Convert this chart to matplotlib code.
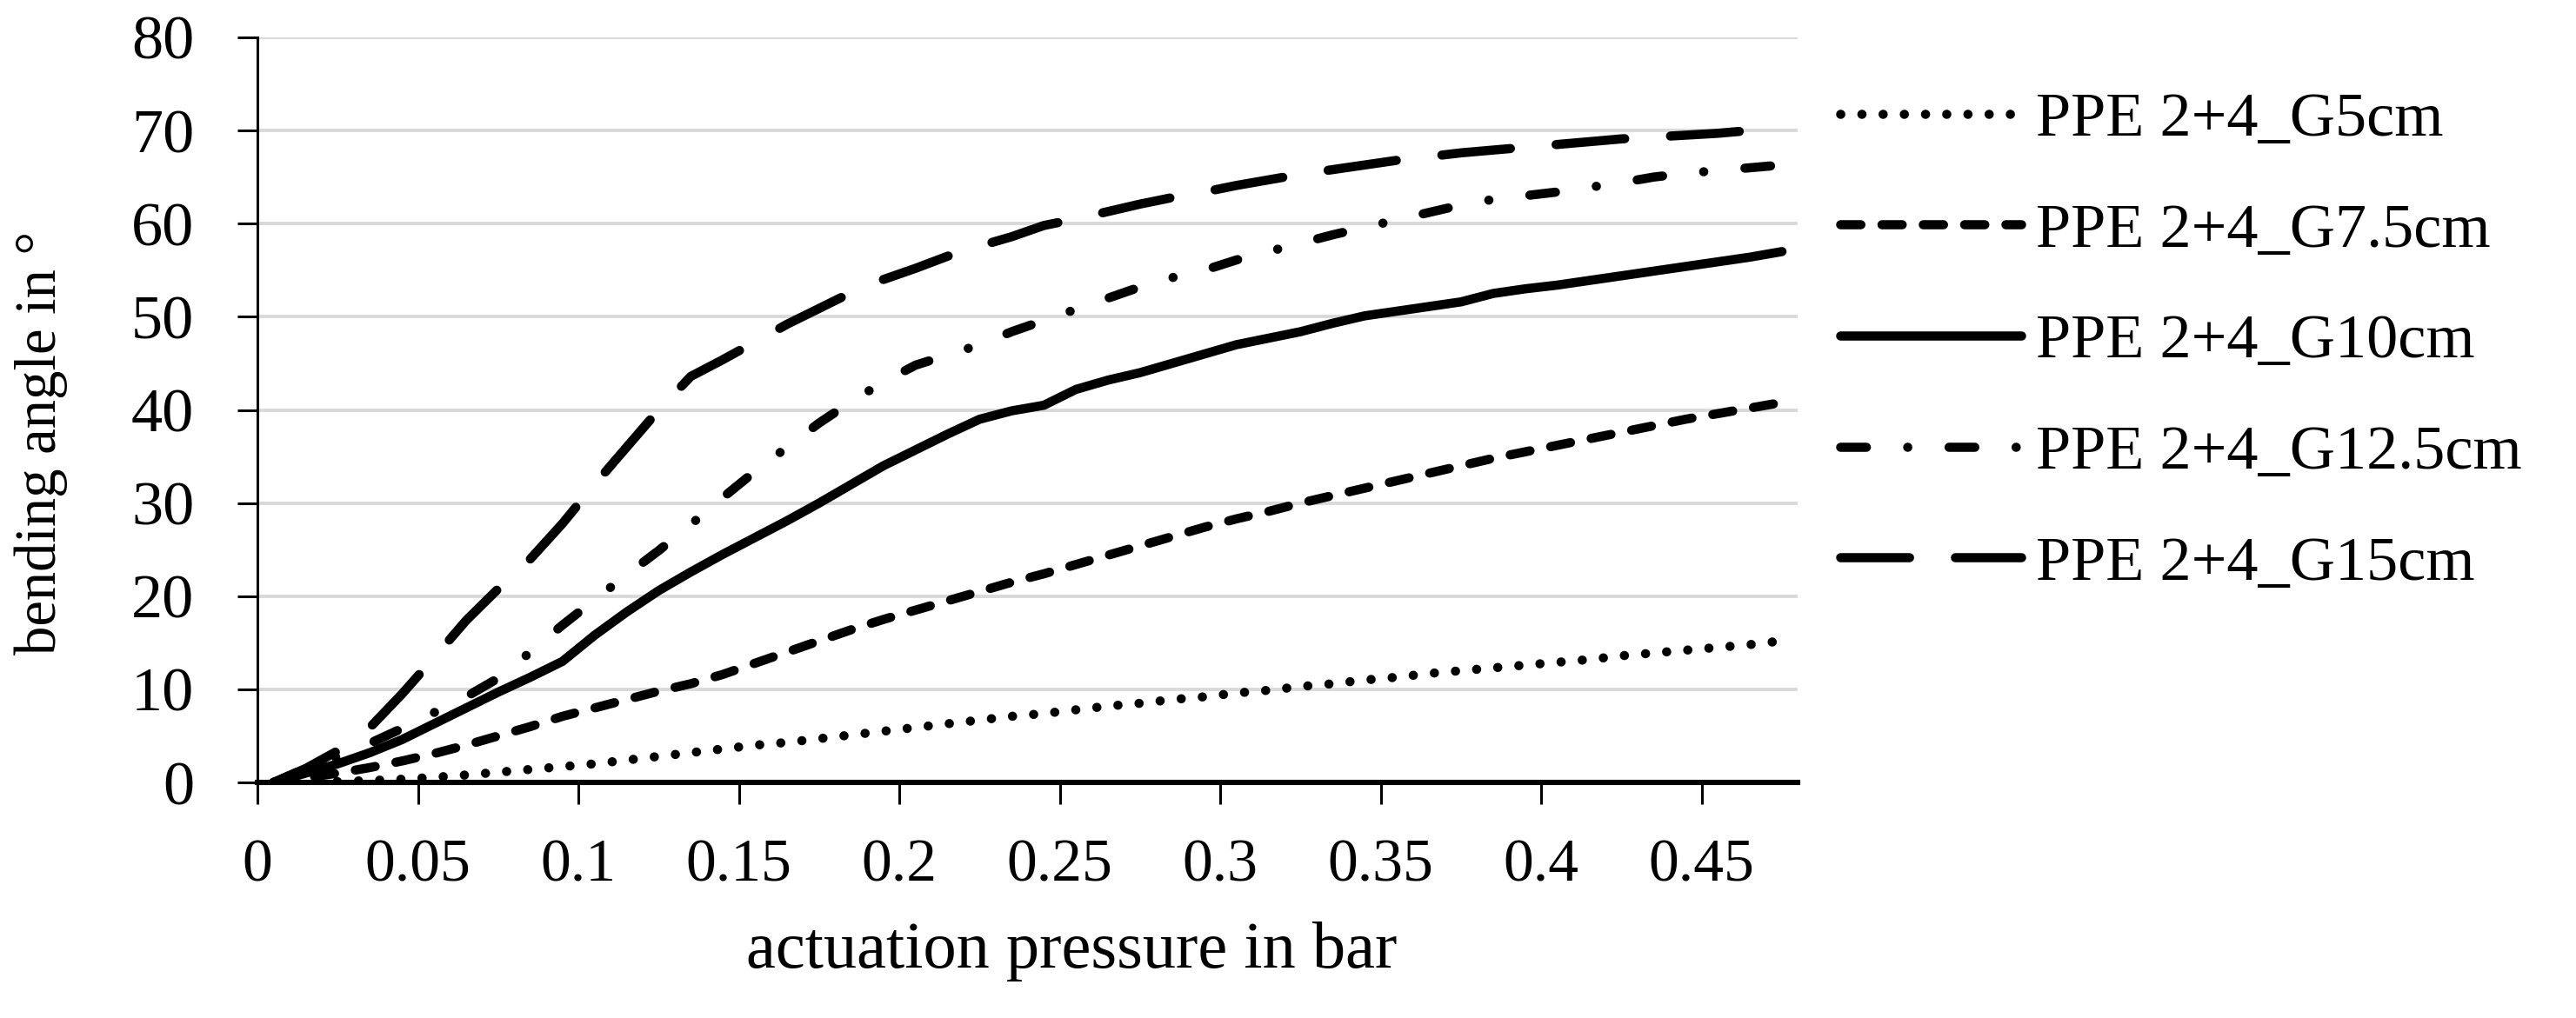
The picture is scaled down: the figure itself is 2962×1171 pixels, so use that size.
import matplotlib.pyplot as plt

# actuation pressure in bar
pressure = [0.005, 0.015, 0.025, 0.035, 0.045, 0.055, 0.065, 0.075, 0.085, 0.095,
            0.105, 0.115, 0.125, 0.135, 0.145, 0.155, 0.165, 0.175, 0.185, 0.195,
            0.205, 0.215, 0.225, 0.235, 0.245, 0.255, 0.265, 0.275, 0.285, 0.295,
            0.305, 0.315, 0.325, 0.335, 0.345, 0.355, 0.365, 0.375, 0.385, 0.395,
            0.405, 0.415, 0.425, 0.435, 0.445, 0.455, 0.465, 0.475]

# bending angle in degrees
g5 = [0, 0.05, 0.1, 0.2, 0.35, 0.55, 0.8, 1.1, 1.4, 1.7, 2.0, 2.4, 2.8, 3.2, 3.6, 4.0,
      4.3, 4.7, 5.1, 5.5, 5.9, 6.3, 6.7, 7.1, 7.4, 7.8, 8.2, 8.5, 8.9, 9.2, 9.6, 9.9,
      10.3, 10.6, 11.0, 11.3, 11.7, 12.0, 12.3, 12.6, 12.9, 13.2, 13.6, 13.9, 14.2,
      14.5, 14.8, 15.2]
g7_5 = [0, 0.5, 1.0, 1.6, 2.3, 3.1, 4.0, 5.0, 6.0, 7.1, 8.0, 8.9, 9.8, 10.6, 11.6, 12.8,
        14.0, 15.2, 16.4, 17.5, 18.5, 19.5, 20.5, 21.5, 22.4, 23.4, 24.4, 25.4, 26.4,
        27.4, 28.3, 29.1, 30.0, 30.8, 31.6, 32.4, 33.2, 34.0, 34.8, 35.5, 36.2, 36.9,
        37.6, 38.3, 39.0, 39.6, 40.2, 40.8]
g10 = [0, 1.0, 2.0, 3.2, 4.6, 6.3, 8.0, 9.7, 11.3, 13.0, 15.8, 18.3, 20.6, 22.6, 24.5,
       26.3, 28.1, 30.0, 32.0, 34.0, 35.7, 37.4, 39.0, 39.9, 40.5, 42.2, 43.2, 44.0,
       45.0, 46.0, 47.0, 47.7, 48.4, 49.3, 50.1, 50.6, 51.1, 51.6, 52.5, 53.0, 53.4,
       53.9, 54.4, 54.9, 55.4, 55.9, 56.4, 57.0]
g12_5 = [0, 1.5, 2.8, 4.2, 5.8, 7.5, 9.2, 11.2, 14.0, 16.9, 19.6, 22.3, 24.9, 27.7, 30.6,
         33.4, 36.0, 38.6, 40.9, 43.0, 44.8, 45.9, 47.0, 48.4, 49.6, 50.8, 52.0, 53.2,
         54.2, 55.0, 56.1, 57.0, 57.9, 58.8, 59.6, 60.4, 61.2, 62.0, 62.6, 63.0, 63.4,
         63.9, 64.4, 65.0, 65.4, 65.7, 66.0, 66.3]
g15 = [0, 1.5, 3.4, 5.9, 9.5, 13.4, 17.4, 20.8, 24.0, 27.8, 32.0, 36.0, 40.0, 43.6, 45.4,
       47.3, 49.2, 50.9, 52.6, 54.0, 55.2, 56.5, 57.6, 58.6, 59.8, 60.5, 61.3, 62.1,
       62.8, 63.4, 64.1, 64.7, 65.3, 65.8, 66.3, 66.8, 67.2, 67.6, 67.9, 68.2, 68.5,
       68.8, 69.1, 69.3, 69.5, 69.7, 70.0, 70.2]

labels = ['PPE 2+4_G5cm', 'PPE 2+4_G7.5cm', 'PPE 2+4_G10cm',
          'PPE 2+4_G12.5cm', 'PPE 2+4_G15cm']
xticks = [0, 0.05, 0.1, 0.15, 0.2, 0.25, 0.3, 0.35, 0.4, 0.45]
xtick_labels = ['0', '0.05', '0.1', '0.15', '0.2', '0.25', '0.3', '0.35', '0.4', '0.45']
yticks = [0, 10, 20, 30, 40, 50, 60, 70, 80]

plt.rcParams['font.family'] = ['Liberation Serif', 'DejaVu Serif']
FS = 26

fig = plt.figure(figsize=(14.81, 5.855), dpi=200)
ax = fig.add_axes([0.100, 0.2314, 0.598, 0.7319])

lw = 3.8
styles = [
    dict(linestyle=(0, (0.01, 2.3))),
    dict(linestyle=(0, (2.2, 2.3))),
    dict(linestyle='-'),
    dict(linestyle=(0, (2.8, 4.5, 0.01, 4.5))),
    dict(linestyle=(0, (7.5, 5.0))),
]
series = [g5, g7_5, g10, g12_5, g15]
for ys, lab, st in zip(series, labels, styles):
    ax.plot(pressure, ys, color='black', lw=lw, label=lab,
            dash_capstyle='round', solid_capstyle='round', solid_joinstyle='round',
            **st)

ax.set_xlim(0, 0.48)
ax.set_ylim(0, 80)
ax.set_xticks(xticks)
ax.set_xticklabels(xtick_labels, fontsize=25)
ax.set_yticks(yticks)
ax.set_yticklabels([str(v) for v in yticks], fontsize=FS)

ax.yaxis.grid(True, color='#d9d9d9', lw=1.4)
ax.set_axisbelow(True)
for s in ['top', 'right']:
    ax.spines[s].set_visible(False)
ax.spines['bottom'].set_linewidth(2.2)
ax.spines['left'].set_linewidth(1.1)
ax.tick_params(axis='x', direction='out', length=9, width=1.1, pad=14.5)
ax.tick_params(axis='y', direction='out', length=8.3, width=1.1, pad=18)

fig.text(0.416, 0.065, 'actuation pressure in bar', fontsize=27.5,
         ha='center', va='center')
fig.text(0.016, 0.565, 'bending angle in °', fontsize=24, rotation=90,
         ha='center', va='center')

ax.legend(loc='upper left', bbox_to_anchor=(0.7145, 0.910),
          bbox_transform=fig.transFigure, frameon=False, fontsize=FS,
          handlelength=2.87, handletextpad=0.24, labelspacing=0.86,
          borderpad=0, borderaxespad=0)

fig.savefig('out.png', dpi=200)
